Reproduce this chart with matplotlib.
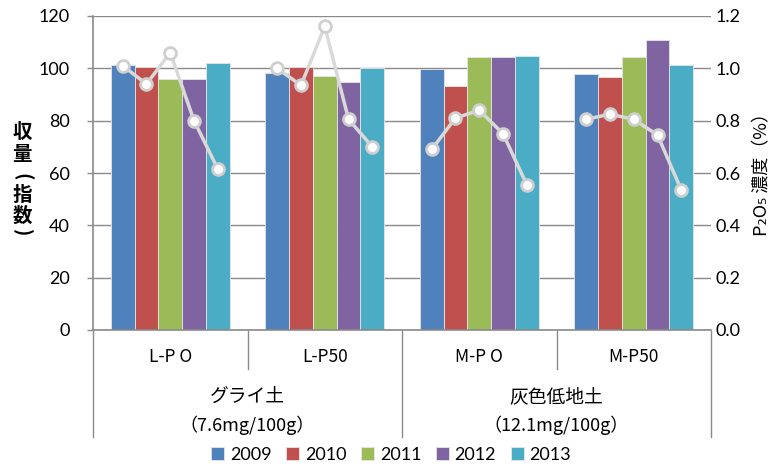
import numpy as np
import matplotlib
matplotlib.use('Agg')
import matplotlib.pyplot as plt
from matplotlib.transforms import blended_transform_factory

plt.rcParams['font.family'] = ['Noto Sans CJK JP', 'DejaVu Sans']

# plots and years
plots = ['L-P O', 'L-P50', 'M-P O', 'M-P50']
years = ['2009', '2010', '2011', '2012', '2013']
soils = ['グライ土', '灰色低地土']
soil_p = ['（7.6mg/100g）', '（12.1mg/100g）']

# yield index, one list per year (order follows plots)
yield_2009 = [101.3, 98.3, 99.6, 97.8]
yield_2010 = [100.5, 100.5, 93.2, 96.5]
yield_2011 = [95.9, 97.2, 104.2, 104.2]
yield_2012 = [95.9, 94.9, 104.2, 111.0]
yield_2013 = [101.9, 100.3, 104.8, 101.3]
yields = [yield_2009, yield_2010, yield_2011, yield_2012, yield_2013]

# P2O5 concentration (%), per plot over 2009-2013
p2o5 = {
    'L-P O': [1.01, 0.94, 1.06, 0.80, 0.615],
    'L-P50': [1.00, 0.935, 1.16, 0.805, 0.70],
    'M-P O': [0.69, 0.81, 0.84, 0.75, 0.555],
    'M-P50': [0.805, 0.825, 0.805, 0.745, 0.535],
}

colors = ['#4F81BD', '#C0504D', '#9BBB59', '#8064A2', '#4BACC6']
grid_c = '#8a8a8a'
num_font = ['Lato', 'DejaVu Sans']

fig = plt.figure(figsize=(7.71, 4.66), dpi=100)
W, H = 771, 466
x0, x1, y0, y1 = 93, 711, 330, 16
ax = fig.add_axes([x0 / W, 1 - y0 / H, (x1 - x0) / W, (y0 - y1) / H])

x = np.arange(len(plots))
bw = 0.154
for i, (yr, vals) in enumerate(zip(years, yields)):
    ax.bar(x + (i - 2) * bw, vals, width=bw, color=colors[i], label=yr,
           edgecolor='#e6e6e6', linewidth=0.6, zorder=2)

ax.set_xlim(-0.5, len(plots) - 0.5)
ax.set_ylim(0, 120)
ax.set_yticks(np.arange(0, 121, 20))
ax.set_xticks([])
ax.yaxis.grid(True, color=grid_c, linewidth=1.0, zorder=0)
ax.set_axisbelow(True)
for s in ['top', 'right']:
    ax.spines[s].set_visible(False)
for s in ['left', 'bottom']:
    ax.spines[s].set_color(grid_c)
    ax.spines[s].set_linewidth(1.2)
ax.tick_params(axis='y', length=4.5, color=grid_c, width=1.0, pad=12,
               labelsize=13)
for lab in ax.get_yticklabels():
    lab.set_family(num_font)

# P2O5 lines on the secondary axis, one line per plot
ax2 = ax.twinx()
ax2.set_ylim(0, 1.2)
ax2.set_yticks(np.arange(0, 1.21, 0.2))
ax2.set_yticklabels([f'{v:.1f}' for v in np.arange(0, 1.21, 0.2)])
ax2.tick_params(axis='y', length=0, pad=3, labelsize=13)
for lab in ax2.get_yticklabels():
    lab.set_family(num_font)
for s in ax2.spines.values():
    s.set_visible(False)
for j, name in enumerate(plots):
    ax2.plot(x[j] + (np.arange(len(years)) - 2) * bw, p2o5[name],
             color='#d9d9d9', linewidth=2.5, marker='o', markersize=8.5,
             markerfacecolor='white', markeredgecolor='#cfcfcf',
             markeredgewidth=2, zorder=3)

# two-level category axis below the plot
tr = blended_transform_factory(ax.transData, ax.transAxes)
ax_h = y0 - y1
def ay(py):
    return -(py - y0) / ax_h

for xs in [0.5, 2.5]:
    ax.plot([xs, xs], [ay(331), ay(369)], transform=tr, color=grid_c,
            linewidth=1.0, clip_on=False)
for xs in [-0.5, 1.5, 3.5]:
    ax.plot([xs, xs], [ay(331), ay(437)], transform=tr, color=grid_c,
            linewidth=1.0, clip_on=False)
for j, name in enumerate(plots):
    ax.text(x[j], ay(357), name, transform=tr, ha='center', va='center',
            fontsize=12.5)
for k, (soil, sp) in enumerate(zip(soils, soil_p)):
    xc = 2 * k + 0.5
    ax.text(xc, ay(397), soil, transform=tr, ha='center', va='center',
            fontsize=13.5)
    ax.text(xc, ay(425), sp, transform=tr, ha='center', va='center',
            fontsize=13)

# left axis title, written top to bottom
left_chars = [('収', 133, 0), ('量', 155, 0), ('(', 177, -90),
              ('指', 195, 0), ('数', 216, 0), (')', 233, -90)]
for ch, py, rot in left_chars:
    fig.text(22 / W, 1 - py / H, ch, ha='center', va='center',
             fontsize=14, fontweight='bold', rotation=rot)

fig.text(762 / W, 1 - 170 / H, 'P₂O₅ 濃度（%）', rotation=90, ha='center',
         va='center', fontsize=13)

fig.legend(loc='center', bbox_to_anchor=(391 / W, 1 - 455 / H), ncol=5,
           frameon=False, prop={'family': num_font, 'size': 13},
           handlelength=0.75, handleheight=0.75, handletextpad=0.3,
           columnspacing=0.8, borderpad=0)

fig.savefig('out.png', dpi=100)
